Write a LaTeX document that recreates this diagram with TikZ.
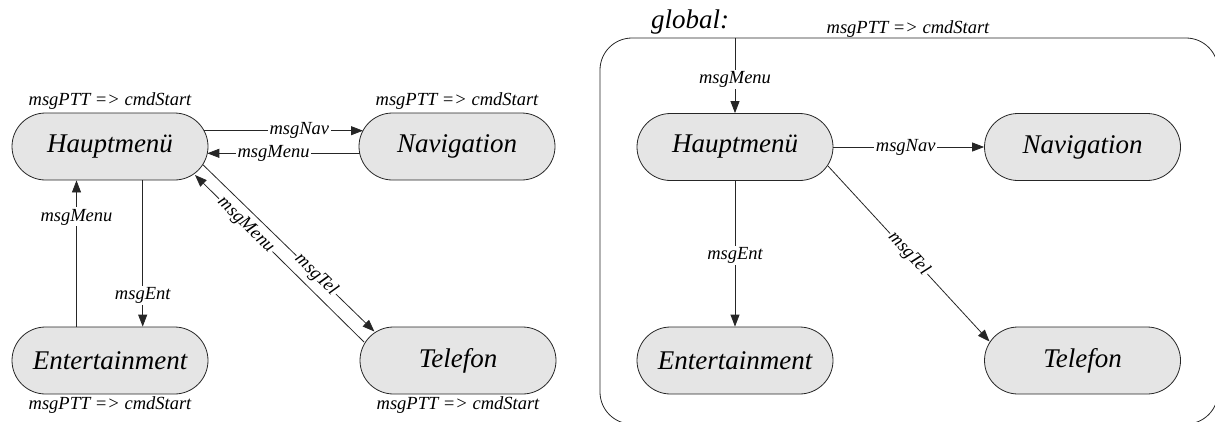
\documentclass[tikz,border=0pt]{standalone}
\usepackage{fontspec}
\setmainfont{LiberationSerif}[Extension=.ttf,UprightFont=*-Regular,ItalicFont=*-Italic,BoldFont=*-Bold,BoldItalicFont=*-BoldItalic]
\usetikzlibrary{calc,arrows.meta}
\begin{document}
\begin{tikzpicture}[x=1pt,y=-1pt,
  state/.style={draw=black!85,line width=0.8pt,fill=black!10,rectangle,rounded corners=33.5pt,
    minimum width=196pt,minimum height=67pt,inner sep=0pt,font=\fontsize{27}{30}\selectfont\itshape},
  lbl/.style={font=\fontsize{18.5}{20}\selectfont\itshape,inner sep=1.5pt},
  onl/.style={lbl,fill=white},
  arr/.style={draw=black!85,line width=0.8pt,-{Triangle[length=12pt,width=9pt]}},
  ln/.style={draw=black!85,line width=0.8pt}]
\useasboundingbox (0,0) rectangle (1215,421);
\clip (0,0) rectangle (1215,421);
% ---------- left diagram ----------
\node[state] (H) at (110,146.5) {Hauptmenü};
\node[state] (N) at (457,146.5) {Navigation};
\node[state] (E) at (110,360.5) {Entertainment};
\node[state] (T) at (458,360.5) {Telefon};
\node[lbl] (pH) at ($(H.north)+(0,-11.5)$) {msgPTT => cmdStart};
\node[lbl] (pN) at ($(N.north)+(0,-11.5)$) {msgPTT => cmdStart};
\node[lbl] (pE) at ($(E.south)+(0,11)$) {msgPTT => cmdStart};
\node[lbl] (pT) at ($(T.south)+(0,11)$) {msgPTT => cmdStart};
\draw[arr] ($(H)+(94,-15.8)$) -- node[onl,pos=0.6] (l1) {msgNav} ($(N)+(-94,-15.8)$);
\draw[arr] ($(N)+(-97.3,6.8)$) -- node[onl,pos=0.565] (l2) {msgMenu} ($(H)+(97.3,6.8)$);
\draw[arr] ($(E.north)+(-33.5,0)$) -- node[onl,pos=0.75] (l3) {msgMenu} ($(H.south)+(-33.5,0)$);
\draw[arr] ($(H.south)+(32.7,0)$) -- node[onl,pos=0.79] (l4) {msgEnt} ($(E.north)+(32.7,0)$);
\draw[arr] ($(T)+(-94,-18.5)$) -- node[onl,pos=0.70,sloped] (l5) {msgMenu} ($(H)+(85,28.5)$);
\draw[arr] ($(H)+(93,18.3)$) -- node[onl,pos=0.66,sloped] (l6) {msgTel} ($(T)+(-83.6,-29)$);
% ---------- right diagram ----------
\node[draw=black!85,line width=0.8pt,rectangle,rounded corners=32pt,minimum width=618pt,minimum height=386pt,inner sep=0pt] (G) at (909,231) {};
\node[font=\fontsize{27}{30}\selectfont\itshape,inner sep=0pt] (gl) at (690,22) {global:};
\node[lbl] (gp) at (908,29) {msgPTT => cmdStart};
\node[state] (H2) at (735,147) {Hauptmenü};
\node[state] (N2) at (1082.5,147) {Navigation};
\node[state] (E2) at (735,360.5) {Entertainment};
\node[state] (T2) at (1082.5,360.5) {Telefon};
\draw[arr] (H2.north |- G.north) -- node[onl,pos=0.55] (r1) {msgMenu} (H2.north);
\draw[arr] (H2.east) -- node[onl,pos=0.48] (r2) {msgNav} (N2.west);
\draw[arr] (H2.south) -- node[onl,pos=0.51] (r3) {msgEnt} (E2.north);
\draw[arr] ($(H2)+(93,19)$) -- node[onl,pos=0.5,sloped] (r4) {msgTel} ($(T2)+(-93,-19)$);
\end{tikzpicture}
\end{document}
